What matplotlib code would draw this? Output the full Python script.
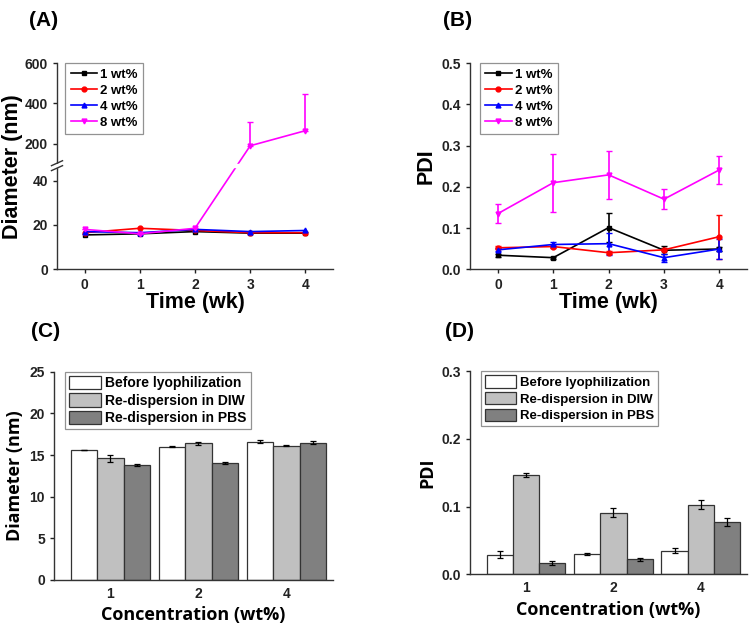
import numpy as np
import matplotlib
matplotlib.use('Agg')
import matplotlib.pyplot as plt
from matplotlib.lines import Line2D

plt.rcParams['font.family'] = ['Liberation Sans', 'DejaVu Sans']
plt.rcParams['font.weight'] = 'bold'

# Time course data (panels A, B)
weeks = [0, 1, 2, 3, 4]
series_names = ['1 wt%', '2 wt%', '4 wt%', '8 wt%']
series_colors = ['black', 'red', 'blue', 'magenta']
series_markers = ['s', 'o', '^', 'v']

diam_1 = [15.5, 16.0, 17.0, 16.3, 16.3]
diam_2 = [16.5, 18.5, 17.5, 16.5, 16.5]
diam_4 = [17.0, 16.5, 18.0, 17.0, 17.5]
diam_8 = [18.0, 16.0, 18.5, 190.0, 265.0]
diam_8_err = [0.0, 0.0, 0.0, 120.0, 180.0]

pdi_1 = [0.034, 0.028, 0.101, 0.046, 0.049]
pdi_2 = [0.052, 0.055, 0.040, 0.047, 0.079]
pdi_4 = [0.047, 0.060, 0.062, 0.028, 0.049]
pdi_8 = [0.135, 0.210, 0.229, 0.170, 0.241]
pdi_1_err = [0.004, 0.002, 0.036, 0.010, 0.004]
pdi_2_err = [0.004, 0.004, 0.004, 0.004, 0.053]
pdi_4_err = [0.004, 0.005, 0.027, 0.010, 0.024]
pdi_8_err = [0.023, 0.070, 0.058, 0.024, 0.034]

# Lyophilization data (panels C, D)
conc_labels = ['1', '2', '4']
cond_names = ['Before lyophilization', 'Re-dispersion in DIW', 'Re-dispersion in PBS']
cond_colors = ['white', '#c0c0c0', '#808080']

bar_diam = [[15.6, 16.0, 16.6], [14.6, 16.4, 16.1], [13.8, 14.05, 16.5]]
bar_diam_err = [[0.05, 0.05, 0.15], [0.4, 0.2, 0.05], [0.15, 0.08, 0.15]]
bar_pdi = [[0.029, 0.030, 0.035], [0.147, 0.091, 0.103], [0.016, 0.022, 0.077]]
bar_pdi_err = [[0.005, 0.001, 0.004], [0.003, 0.007, 0.007], [0.003, 0.002, 0.006]]

# broken y scale for panel A
L, U, G, C = 46.0, 100.0, 1.6, 0.091


def fwd(y):
    y = np.asarray(y, dtype=float)
    return np.where(y <= L, y,
                    np.where(y < U, L + (y - L) / (U - L) * G,
                             L + G + (y - U) * C))


def inv(t):
    t = np.asarray(t, dtype=float)
    return np.where(t <= L, t,
                    np.where(t < L + G, L + (t - L) / G * (U - L),
                             U + (t - L - G) / C))


def style_axes(ax):
    for s in ['top', 'right']:
        ax.spines[s].set_visible(False)
    for s in ['left', 'bottom']:
        ax.spines[s].set_linewidth(1.0)
        ax.spines[s].set_color('#333333')
    ax.tick_params(direction='out', length=3, width=1, labelsize=10, colors='#222222')
    for lbl in ax.get_xticklabels() + ax.get_yticklabels():
        lbl.set_fontweight('bold')


def legend_box(ax, **kw):
    leg = ax.legend(frameon=True, fancybox=False, edgecolor='#777777',
                    borderaxespad=0.0, **kw)
    leg.get_frame().set_linewidth(0.9)
    return leg


def line_handles():
    return [Line2D([], [], color=series_colors[k], marker=series_markers[k],
                   markersize=3.5, lw=1.2) for k in range(4)]


fig = plt.figure(figsize=(7.5, 6.29), dpi=100)

# ---- (A)
axA = fig.add_axes([0.076, 0.572, 0.368, 0.3275])
axA.set_yscale('function', functions=(fwd, inv))
diam_all = [diam_1, diam_2, diam_4, diam_8]
for k in range(4):
    axA.plot(weeks, diam_all[k], color=series_colors[k], marker=series_markers[k],
             markersize=3.5, lw=1.2, zorder=2)
axA.errorbar(weeks, diam_8, yerr=[np.zeros(5), diam_8_err], fmt='none',
             ecolor='magenta', elinewidth=1.2, capsize=2.5, zorder=2)
axA.set_ylim(0, 600)
axA.set_xlim(-0.5, 4.5)
axA.set_yticks([0, 20, 40, 200, 400, 600])
axA.set_xticks(weeks)
style_axes(axA)
axA.axhspan(L + 0.1, U - 0.1, xmin=-0.03, xmax=1.0, color='white', clip_on=False, zorder=3)
yb = (fwd(L) + G / 2) / fwd(600)
for dy in (-0.012, 0.012):
    axA.plot([-0.02, 0.02], [yb + dy - 0.012, yb + dy + 0.012], transform=axA.transAxes,
             color='#333333', lw=1.0, clip_on=False, zorder=4)
axA.set_xlabel('Time (wk)', fontsize=15.5, fontweight='bold', labelpad=0)
axA.set_ylabel('Diameter (nm)', fontsize=15.5, fontweight='bold', labelpad=1)
legend_box(axA, handles=line_handles(), labels=series_names, loc='upper left',
           bbox_to_anchor=(0.03, 1.0), handlelength=2.0, handletextpad=0.25,
           labelspacing=0.28, borderpad=0.4, prop={'weight': 'bold', 'size': 9.5})

# ---- (B)
axB = fig.add_axes([0.627, 0.572, 0.369, 0.3275])
pdi_all = [pdi_1, pdi_2, pdi_4, pdi_8]
pdi_err_all = [pdi_1_err, pdi_2_err, pdi_4_err, pdi_8_err]
for k in range(4):
    axB.errorbar(weeks, pdi_all[k], yerr=pdi_err_all[k], color=series_colors[k],
                 marker=series_markers[k], markersize=3.5, lw=1.2, elinewidth=1.2,
                 capsize=2.5)
axB.set_ylim(0, 0.5)
axB.set_xlim(-0.5, 4.5)
axB.set_yticks([0.0, 0.1, 0.2, 0.3, 0.4, 0.5])
axB.set_xticks(weeks)
style_axes(axB)
axB.set_xlabel('Time (wk)', fontsize=15.5, fontweight='bold', labelpad=0)
axB.set_ylabel('PDI', fontsize=15.5, fontweight='bold', labelpad=4)
legend_box(axB, handles=line_handles(), labels=series_names, loc='upper left',
           bbox_to_anchor=(0.035, 1.0), handlelength=2.0, handletextpad=0.25,
           labelspacing=0.28, borderpad=0.4, prop={'weight': 'bold', 'size': 9.5})

# ---- (C) and (D)
xpos = np.arange(len(conc_labels))
bw = 0.3


def bar_panel(ax, vals, errs, ylim, yticks, ylabel, fs):
    for j in range(3):
        ax.bar(xpos + (j - 1) * bw, vals[j], width=bw, color=cond_colors[j],
               edgecolor='#333333', linewidth=0.9, label=cond_names[j],
               yerr=errs[j], capsize=2, error_kw={'elinewidth': 0.9, 'capthick': 0.9})
    ax.set_ylim(*ylim)
    ax.set_yticks(yticks)
    ax.set_xticks(xpos)
    ax.set_xticklabels(conc_labels)
    ax.set_xlim(-0.64, 2.53)
    style_axes(ax)
    ax.tick_params(axis='x', length=0, pad=5)
    ax.set_xlabel('Concentration (wt%)', fontsize=13, fontweight='bold',
                  family=['Open Sans', 'DejaVu Sans'], labelpad=4)
    ax.set_ylabel(ylabel, fontsize=13, fontweight='bold',
                  family=['Open Sans', 'DejaVu Sans'], labelpad=4)
    legend_box(ax, loc='upper left', bbox_to_anchor=(0.04, 1.0), handlelength=2.3,
               handleheight=1.1, handletextpad=0.3, labelspacing=0.22, borderpad=0.3,
               prop={'weight': 'bold', 'size': fs})


axC = fig.add_axes([0.072, 0.078, 0.372, 0.331])
bar_panel(axC, bar_diam, bar_diam_err, (0, 25), [0, 5, 10, 15, 20, 25], 'Diameter (nm)', 10)

axD = fig.add_axes([0.627, 0.087, 0.369, 0.323])
bar_panel(axD, bar_pdi, bar_pdi_err, (0, 0.3), [0.0, 0.1, 0.2, 0.3], 'PDI', 9.5)

# panel letters
for x, y, t in [(0.039, 0.952, '(A)'), (0.591, 0.952, '(B)'),
                (0.042, 0.458, '(C)'), (0.593, 0.458, '(D)')]:
    fig.text(x, y, t, fontsize=15, fontweight='bold', ha='left', va='bottom')

fig.savefig('out.png', dpi=100)
